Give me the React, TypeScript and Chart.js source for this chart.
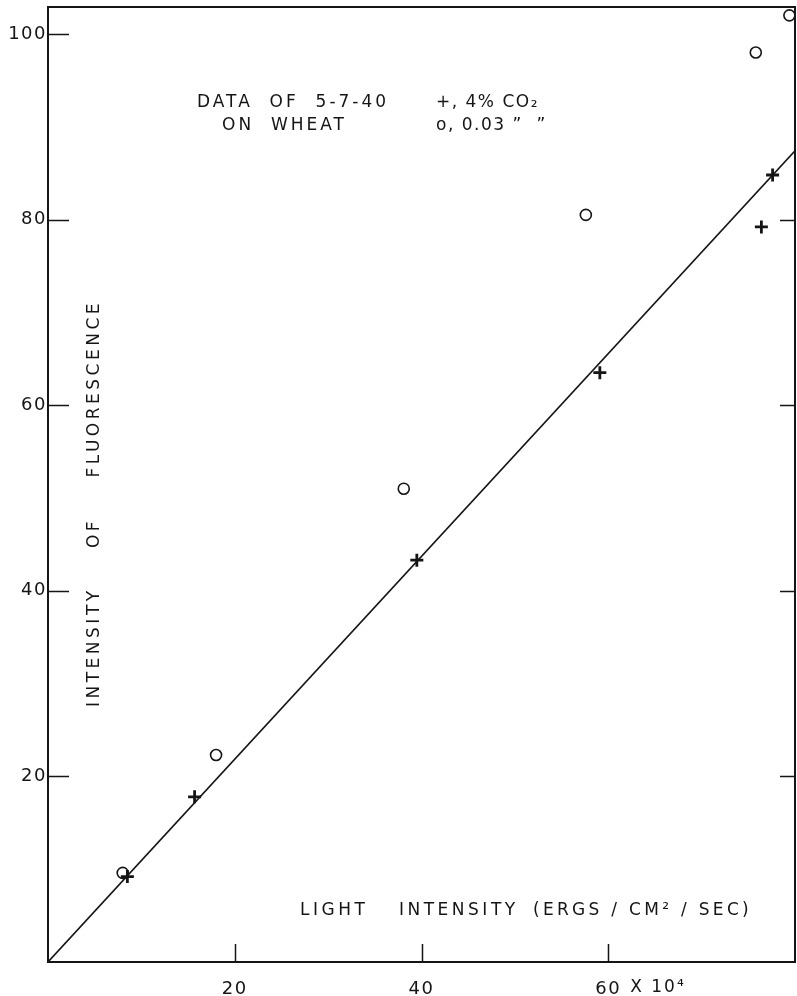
import { useEffect, useRef } from "react";
import { Chart, registerables } from "chart.js";

Chart.register(...registerables);

// ---- data ----
const plusX = [8.5, 15.7, 39.5, 59.1, 76.4, 77.6];
const plusY = [9.2, 17.8, 43.3, 63.5, 79.2, 84.8];
const circX = [8.0, 18.0, 38.1, 57.6, 75.8, 79.4];
const circY = [9.6, 22.3, 51.0, 80.5, 98.0, 102.0];
const lineX = [0, 80];
const lineY = [0, 87.4];

const xTickValues = [20, 40, 60];
const yTickValues = [20, 40, 60, 80, 100];
const rightTickValues = [20, 40, 60, 80];
const xMin = 0;
const xMax = 80;
const yMin = 0;
const yMax = 102.9;

const xUnitSuffix = "X 10\u2074";
const xTitleWords = ["LIGHT", "INTENSITY", "(ERGS / CM\u00B2 / SEC)"];
const yTitleWords = ["INTENSITY", "OF", "FLUORESCENCE"];
const noteLines = ["DATA  OF  5-7-40", "ON  WHEAT"];
const legendLines = ["+, 4% CO\u2082", "o, 0.03 \u201D  \u201D"];

const FONT = '"DejaVu Sans", sans-serif';
const INK = "#151515";

const toPts = (xs: number[], ys: number[]) => xs.map((x, i) => ({ x, y: ys[i] }));

function txt(ctx: any, s: string, x: number, y: number, spacing: number, align: string = "left") {
  ctx.save();
  ctx.letterSpacing = `${spacing}px`;
  ctx.textAlign = align;
  ctx.fillText(s, x, y);
  ctx.restore();
}

const framePlugin = {
  id: "frame",
  beforeDraw(chart: any) {
    chart.ctx.letterSpacing = "1.5px";
  },
  afterDatasetsDraw(chart: any) {
    const { ctx, chartArea: a, scales } = chart;
    const xs = scales.x;
    const ys = scales.y;
    ctx.save();
    ctx.strokeStyle = INK;
    ctx.lineWidth = 2;
    ctx.strokeRect(a.left, a.top, a.right - a.left, a.bottom - a.top);
    ctx.lineWidth = 1.5;
    ctx.beginPath();
    for (const v of yTickValues) {
      const p = Math.round(ys.getPixelForValue(v)) + 0.5;
      ctx.moveTo(a.left, p);
      ctx.lineTo(a.left + 21, p);
    }
    for (const v of rightTickValues) {
      const p = Math.round(ys.getPixelForValue(v)) + 0.5;
      ctx.moveTo(a.right, p);
      ctx.lineTo(a.right - 15, p);
    }
    for (const v of xTickValues) {
      const p = Math.round(xs.getPixelForValue(v)) + 0.5;
      ctx.moveTo(p, a.bottom);
      ctx.lineTo(p, a.bottom - 18);
    }
    ctx.stroke();

    ctx.fillStyle = INK;
    ctx.font = `17px ${FONT}`;
    ctx.textBaseline = "middle";
    // unit suffix after the 60 label
    txt(ctx, xUnitSuffix, xs.getPixelForValue(60) + 22, a.bottom + 26, 2);
    // annotation block
    txt(ctx, noteLines[0], 197, 103, 3);
    txt(ctx, noteLines[1], 222, 126, 3);
    txt(ctx, legendLines[0], 436, 103, 1.5);
    txt(ctx, legendLines[1], 436, 126, 1.5);
    // x title inside plot
    txt(ctx, xTitleWords[0], 300, 911, 3.5);
    txt(ctx, xTitleWords[1], 399, 911, 3.5);
    txt(ctx, xTitleWords[2], 533, 911, 3.3);
    // y title rotated
    ctx.save();
    ctx.translate(95, 0);
    ctx.rotate(-Math.PI / 2);
    // in rotated frame, x = -pageY
    txt(ctx, yTitleWords[0], -707, 0, 3.5, "left");
    txt(ctx, yTitleWords[1], -533, 0, 3.5, "center");
    txt(ctx, yTitleWords[2], -300, 0, 3.5, "right");
    ctx.restore();
    ctx.restore();
  },
  afterDraw(chart: any) {
    chart.ctx.letterSpacing = "0px";
  },
};

export default function App() {
  const ref = useRef<HTMLCanvasElement | null>(null);

  useEffect(() => {
    if (!ref.current) return;
    const chart = new Chart(ref.current, {
      type: "scatter",
      data: {
        datasets: [
          {
            label: "fit",
            data: toPts(lineX, lineY),
            showLine: true,
            borderColor: INK,
            borderWidth: 1.6,
            pointRadius: 0,
          },
          {
            label: "4% CO2",
            data: toPts(plusX, plusY),
            pointStyle: "cross",
            pointRadius: 6.5,
            borderColor: INK,
            borderWidth: 2.8,
            showLine: false,
          },
          {
            label: "0.03% CO2",
            data: toPts(circX, circY),
            pointStyle: "circle",
            pointRadius: 5.5,
            borderColor: INK,
            backgroundColor: "rgba(0,0,0,0)",
            borderWidth: 1.6,
            showLine: false,
          },
        ],
      },
      options: {
        animation: false,
        responsive: false,
        maintainAspectRatio: false,
        layout: { autoPadding: false, padding: { left: 0, top: 7, right: 2, bottom: 0 } },
        plugins: { legend: { display: false }, tooltip: { enabled: false } },
        scales: {
          x: {
            type: "linear",
            min: xMin,
            max: xMax,
            afterBuildTicks: (s: any) => {
              s.ticks = xTickValues.map((v) => ({ value: v }));
            },
            afterFit: (s: any) => {
              s.height = 34;
              s.paddingLeft = 0;
              s.paddingRight = 0;
              s.paddingTop = 0;
              s.paddingBottom = 0;
            },
            grid: { display: false, drawTicks: false },
            border: { display: false },
            ticks: {
              color: INK,
              font: { family: FONT, size: 18 },
              padding: 17,
              maxRotation: 0,
              autoSkip: false,
            },
          },
          y: {
            type: "linear",
            min: yMin,
            max: yMax,
            afterBuildTicks: (s: any) => {
              s.ticks = yTickValues.map((v) => ({ value: v }));
            },
            afterFit: (s: any) => {
              s.width = 48;
              s.paddingLeft = 0;
              s.paddingRight = 0;
              s.paddingTop = 0;
              s.paddingBottom = 0;
            },
            grid: { display: false, drawTicks: false },
            border: { display: false },
            ticks: {
              color: INK,
              font: { family: FONT, size: 18 },
              padding: 1,
              autoSkip: false,
            },
          },
        },
      },
      plugins: [framePlugin],
    });
    return () => chart.destroy();
  }, []);

  return (
    <div style={{ position: "fixed", left: 0, top: 0, width: 797, height: 996, background: "#fff" }}>
      <canvas ref={ref} width={797} height={996} style={{ width: 797, height: 996, display: "block" }} />
    </div>
  );
}
